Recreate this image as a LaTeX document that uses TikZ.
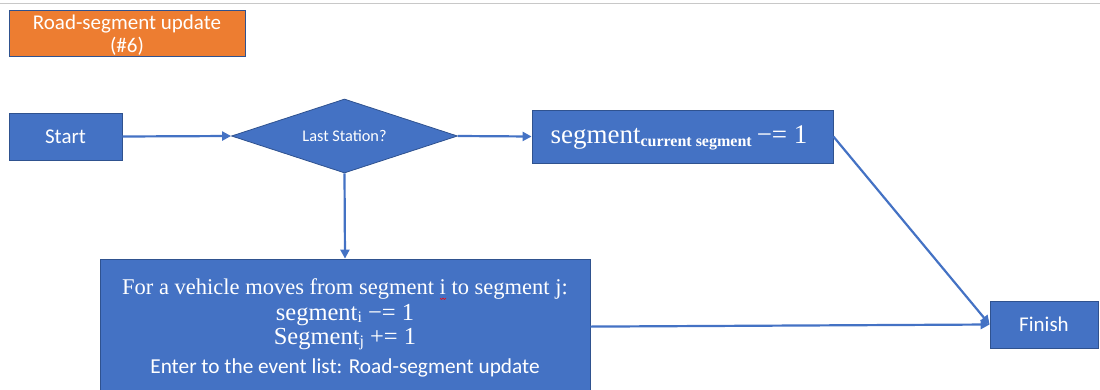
\documentclass[tikz,border=0pt]{standalone}
\usepackage{fontspec}
\setmainfont{Liberation Serif}
\newfontfamily\calfont{Carlito}
\usetikzlibrary{shapes.geometric,arrows.meta,calc}
\definecolor{boxblue}{HTML}{4472C4}
\definecolor{edgeblue}{HTML}{2F528F}
\definecolor{boxorange}{HTML}{ED7D31}
\definecolor{rulegray}{HTML}{C8C8C8}
% lowered subscript in a smaller size
\newcommand{\lowsub}[3]{\raisebox{-#3}{\fontsize{#1}{#1}\selectfont #2}}
\begin{document}
\begin{tikzpicture}[x=1pt,y=-1pt,
  blk/.style={draw=edgeblue, line width=0.8pt, fill=boxblue, text=white,
    inner sep=0pt, font=\calfont\fontsize{21}{24}\selectfont},
  flow/.style={draw=boxblue, line width=2.2pt, -{Triangle[length=9pt,width=9pt]}},
  txt/.style={text=white, inner sep=0pt, anchor=base}]
\useasboundingbox (0,0) rectangle (1100,389);
\clip (0,0) rectangle (1100,389);

% top rule
\draw[rulegray, line width=1pt] (0,3.5) -- (1100,3.5);

% title tag
\node[draw=edgeblue, line width=0.8pt, fill=boxorange, minimum width=236pt,
  minimum height=46pt, inner sep=0pt] (tag) at (127,33) {};
\node[txt, font=\calfont\fontsize{21}{24}\selectfont] (tagA) at (127,29) {Road-segment update};
\node[txt, font=\calfont\fontsize{21}{24}\selectfont] (tagB) at (127,52) {(\#6)};

% flow elements
\node[blk, minimum width=113pt, minimum height=47pt] (start) at (65.5,136.5) {Start};
\node[blk, shape=diamond, aspect=3.05, minimum width=226pt, minimum height=74pt,
  font=\calfont\fontsize{16.3}{19}\selectfont] (last) at (344.5,136) {Last Station?};
\node[blk, minimum width=301pt, minimum height=53pt] (seg) at (682.5,136.5) {};
\node[blk, minimum width=490pt, minimum height=140pt] (upd) at (345,329) {};
\node[blk, minimum width=108pt, minimum height=47pt] (fin) at (1044,324.5) {Finish};

% text of the decrement box
\node[txt, font=\fontsize{27}{30}\selectfont] (segtxt) at (679,143)
  {segment\lowsub{16}{\bfseries current segment}{3pt}\hspace{5pt}−= 1};

% text of the update box
\node[txt, font=\fontsize{22.5}{26}\selectfont] (l1) at (345,294)
  {For a vehicle moves from segment i to segment j:};
\node[txt, font=\fontsize{24.5}{28}\selectfont] (l2) at (345,320)
  {segment\lowsub{16}{i}{2pt} −= 1};
\node[txt, font=\fontsize{24.5}{28}\selectfont] (l3) at (345,344)
  {Segment\lowsub{16}{j}{2pt} += 1};
\node[txt, font=\calfont\fontsize{21.3}{24}\selectfont] (l4) at (345,373)
  {Enter to the event list: Road-segment update};
% spell-check squiggle under the i
\draw[red, line width=0.6pt] (440,298) -- ++(1.5,1.5) -- ++(1.5,-1.5)
  -- ++(1.5,1.5) -- ++(1.5,-1.5);

% connectors
\draw[flow] (start.east) -- (last.west);
\draw[flow] (last.east) -- (seg.west);
\draw[flow] (last.south) -- (upd.north);
\draw[flow] (seg.east) -- (fin.west);
\draw[flow] ($(upd.north east)+(0,68)$) -- (fin.west);
\end{tikzpicture}
\end{document}
